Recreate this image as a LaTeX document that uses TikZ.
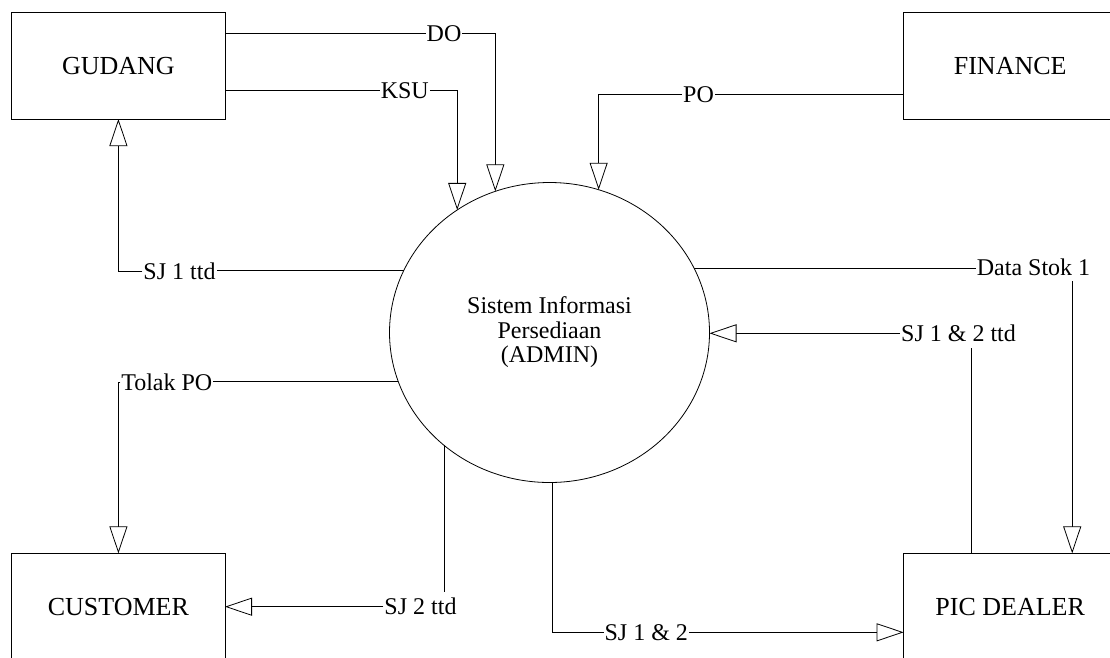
\documentclass[tikz,border=0pt]{standalone}
\usepackage{fontspec}
\setmainfont{LiberationSerif}[Extension=.ttf,UprightFont=*-Regular,BoldFont=*-Bold]
\usetikzlibrary{arrows.meta,shapes.geometric,calc}
\begin{document}
\begin{tikzpicture}[x=1pt,y=-1pt,
  wire/.style={draw=black,line width=0.8pt},
  flow/.style={wire,-{Triangle[open,length=27pt,width=18pt,fill=white]}},
  entity/.style={draw=black,line width=0.8pt,minimum width=213.2pt,minimum height=106.7pt,
    inner sep=0pt,outer sep=0pt,font=\fontsize{26}{26}\selectfont},
  process/.style={draw=black,line width=0.8pt,ellipse,minimum width=320pt,minimum height=300pt,
    inner sep=0pt,outer sep=0pt,align=center,font=\fontsize{24}{24.5}\selectfont},
  lbl/.style={inner sep=1pt,outer sep=0pt,text height=16pt,text depth=0pt,
    font=\fontsize{24}{24}\selectfont}]
\clip (0,0) rectangle (1110,657);
\fill[white] (0,0) rectangle (1110,657);

% external entities
\node[entity] (gudang)   at (118.4,65.7)  {GUDANG};
\node[entity] (finance)  at (1010.2,65.7) {FINANCE};
\node[entity] (customer) at (118.4,606.7) {CUSTOMER};
\node[entity] (pic)      at (1010.2,606.7) {PIC DEALER};

% central process
\node[process] (admin) at (549.5,332.5) {Sistem Informasi\\Persediaan\\(ADMIN)};

% data flow labels
\node[lbl] (doL)    at (444,33.3)    {DO};
\node[lbl] (ksuL)   at (404.8,90)    {KSU};
\node[lbl] (poL)    at (698.5,94.3)  {PO};
\node[lbl] (sj1L)   at (179.5,271.7) {SJ 1 ttd};
\node[lbl] (tolakL) at (166.8,382.3) {Tolak PO};
\node[lbl] (sj2L)   at (420.5,606.7) {SJ 2 ttd};
\node[lbl] (dsL)    at (1033.5,267.3) {Data Stok 1};
\node[lbl] (sj12tL) at (958.5,333.3) {SJ 1 \& 2 ttd};
\node[lbl] (sj12L)  at (646.3,632.3) {SJ 1 \& 2};

% attachment points on the dealer box
\coordinate (dsIn)    at ($(pic.north)+(62,0)$);
\coordinate (sj12tOut) at ($(pic.north)+(-39.3,0)$);

% GUDANG -> ADMIN
\draw[wire] (gudang.east |- doL) -- (doL.west);
\draw[flow] (doL.east) -| (admin.111.5);
\draw[wire] (gudang.east |- ksuL) -- (ksuL.west);
\draw[flow] (ksuL.east) -| (admin.127.1);

% FINANCE -> ADMIN
\draw[wire] (finance.west |- poL) -- (poL.east);
\draw[flow] (poL.west) -| (admin.71.65);

% ADMIN -> GUDANG
\draw[wire] (admin.157.4) -- (admin.157.4 -| sj1L.east);
\draw[flow] (sj1L.west) -| (gudang.south);

% ADMIN -> CUSTOMER
\draw[wire] (admin.198.3) -- (admin.198.3 -| tolakL.east);
\draw[flow] (tolakL.west) -| (customer.north);
\draw[wire,shorten >=6pt] (admin.227.7) -- (admin.227.7 |- sj2L.north);
\draw[flow] (sj2L.west) -- (sj2L.west -| customer.east);

% ADMIN -> PIC DEALER
\draw[wire] (admin.-89.4) |- (sj12L.west);
\draw[flow] (sj12L.east) -- (sj12L.east -| pic.west);
\draw[wire] (admin.24.34) -- (admin.24.34 -| dsL.west);
\draw[flow,shorten <=5pt] (dsIn |- dsL.south) -- (dsIn);

% PIC DEALER -> ADMIN
\draw[wire,shorten >=6pt] (sj12tOut) -- (sj12tOut |- sj12tL.south);
\draw[flow] (sj12tL.west) -- (sj12tL.west -| admin.east);
\end{tikzpicture}
\end{document}
